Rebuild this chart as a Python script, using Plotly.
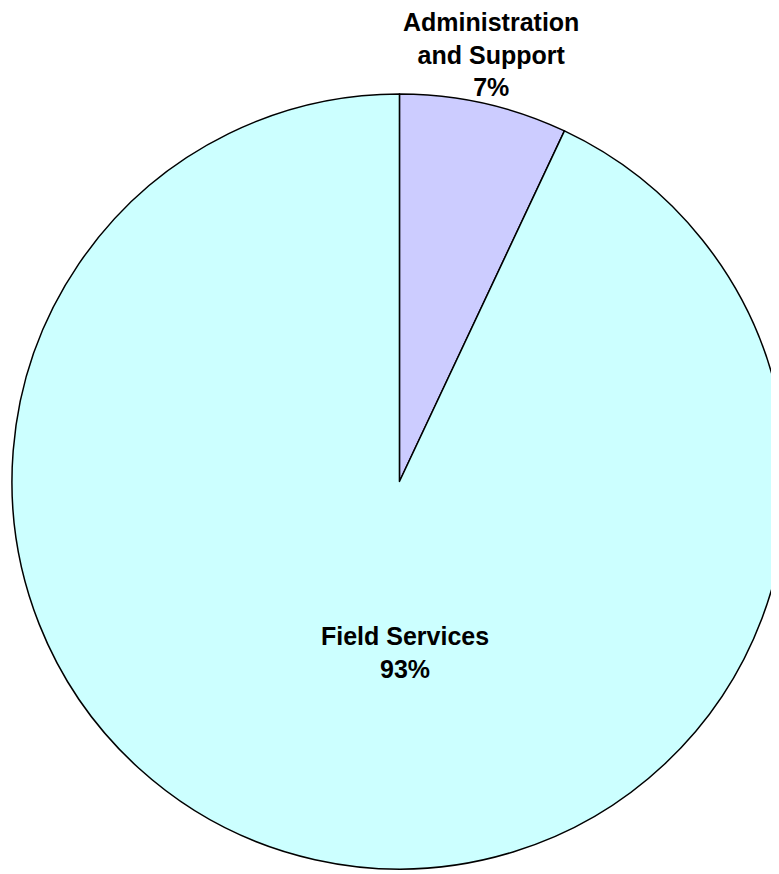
import plotly.graph_objects as go

# ---------------------------------------------------------------------------
# Data
# ---------------------------------------------------------------------------
categories = ["Administration and Support", "Field Services"]
display_labels = ["Administration<br>and Support", "Field Services"]
shares = [7, 93]

slice_colours = ["#CCCCFF", "#CCFFFF"]

# label anchor points (paper coords), one per category
label_x = [0.620, 0.5096]
label_y = [0.9472, 0.2625]

_FONT = "Liberation Sans, Arial, sans-serif"

fig = go.Figure(
    go.Pie(
        labels=categories,
        values=shares,
        sort=False,
        direction="clockwise",
        rotation=0,
        marker=dict(colors=slice_colours, line=dict(color="#000000", width=1.5)),
        textinfo="none",
        domain=dict(x=[0.005, 1.0], y=[0.0149, 0.9016]),
        showlegend=False,
        hoverinfo="label+percent",
    )
)

for name, share, x, y in zip(display_labels, shares, label_x, label_y):
    fig.add_annotation(
        x=x,
        y=y,
        xref="paper",
        yref="paper",
        xanchor="center",
        yanchor="middle",
        text=f"<b>{name}<br>{share}%</b>",
        showarrow=False,
        align="center",
        font=dict(family=_FONT, size=25, color="#000000"),
    )

fig.update_layout(
    width=779,
    height=874,
    margin=dict(l=0, r=0, t=0, b=0),
    paper_bgcolor="#FFFFFF",
    plot_bgcolor="#FFFFFF",
)

fig.write_html("out.html")
